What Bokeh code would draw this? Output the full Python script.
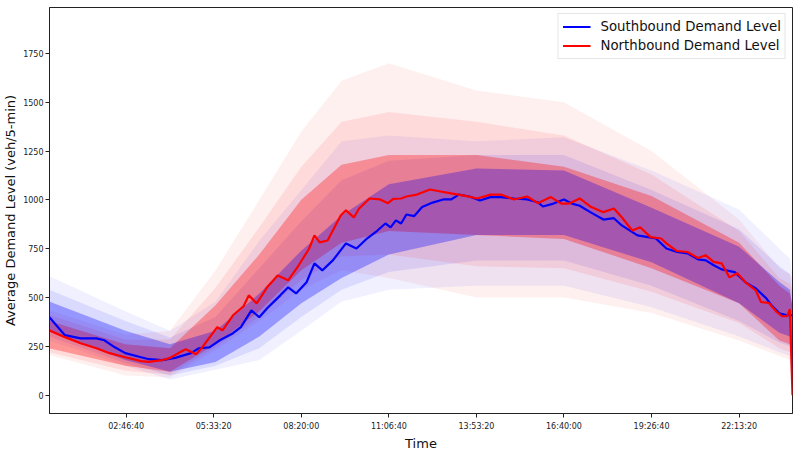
from bokeh.plotting import figure
from bokeh.models import FixedTicker, Range1d
from bokeh.embed import file_html
from bokeh.resources import INLINE

# ---- mean demand curves (seconds since midnight, veh/5-min) ----
sb_time_s = [1200, 3000, 4800, 6600, 7500, 8700, 9900, 11700, 12600, 14100, 15600, 17400,
             18300, 19500, 20700, 22200, 23100, 24300, 25200, 26100, 27600, 28500, 29400,
             30600, 31500, 32400, 33600, 35100, 36300, 37500, 38700, 39600, 40200, 40800,
             41400, 42000, 42900, 43800, 45000, 46200, 47100, 48000, 49200, 50400, 51600,
             52800, 54300, 55800, 57000, 57600, 58800, 60000, 60900, 61800, 63000, 64500,
             65700, 66600, 68400, 69600, 70500, 71700, 72900, 74100, 75300, 76200, 77100,
             78000, 79500, 80700, 81900, 83100, 83700, 84600, 85500, 86100]
sb_level = [400, 307, 291, 291, 281, 245, 215, 194, 184, 179, 191, 215,
            240, 245, 281, 317, 348, 434, 399, 445, 511, 552, 521,
            578, 675, 639, 690, 777, 751, 802, 843, 879, 859, 895,
            879, 925, 917, 963, 986, 1002, 1002, 1027, 1017, 997, 1014,
            1014, 1007, 1002, 988, 966, 981, 1002, 981, 970, 937, 899,
            906, 869, 818, 809, 802, 751, 733, 726, 695, 690, 665,
            644, 630, 579, 547, 496, 460, 419, 409, 409]

nb_time_s = [1200, 3000, 4800, 6600, 8100, 9900, 11700, 12600, 14100, 15000, 16200, 16800,
             18000, 18600, 20400, 21000, 22200, 23400, 24000, 24900, 26100, 27300, 28500,
             29700, 30900, 31500, 32100, 33000, 34500, 35100, 36000, 36600, 37800, 39000,
             39900, 40500, 41400, 42000, 43200, 44700, 45900, 47100, 48600, 50100, 51600,
             52800, 54300, 55800, 57000, 58500, 59700, 60600, 61800, 63000, 64500, 65700,
             66600, 67800, 68700, 69900, 71100, 71700, 72900, 74100, 75300, 76200, 77100,
             78000, 78900, 79800, 80700, 81900, 82500, 83400, 84300, 84900, 85500, 85800, 86100]
nb_level = [332, 297, 266, 240, 215, 194, 174, 170, 179, 191, 221, 235,
            210, 240, 348, 332, 409, 455, 511, 470, 552, 613, 588,
            665, 751, 818, 782, 792, 920, 946, 910, 956, 1007, 1002,
            983, 1005, 1007, 1017, 1027, 1053, 1043, 1033, 1022, 1007, 1027,
            1027, 1002, 1017, 983, 1014, 981, 981, 1007, 966, 937, 956,
            911, 843, 860, 809, 802, 777, 738, 733, 702, 716, 682,
            675, 603, 624, 579, 537, 477, 472, 426, 404, 404, 440, 0]

# ---- spread of the individual daily curves ----
band_time_s = [1200, 9900, 15000, 20200, 25200, 30000, 34600, 40000, 50000, 60000,
               70000, 80000, 84600, 85800, 86100]
sb_outer_low = [280, 150, 80, 130, 180, 330, 480, 540, 560, 560, 450, 300, 220, 200, 0]
sb_outer_high = [610, 430, 330, 480, 790, 1050, 1300, 1330, 1300, 1320, 1150, 950, 750, 700, 600]
sb_mid_low = [300, 165, 100, 150, 240, 400, 540, 630, 690, 690, 560, 380, 270, 250, 50]
sb_mid_high = [540, 380, 295, 400, 650, 890, 1100, 1200, 1230, 1230, 1050, 850, 660, 620, 520]
sb_core_low = [330, 180, 120, 170, 300, 470, 600, 720, 820, 820, 680, 470, 320, 300, 100]
sb_core_high = [480, 330, 260, 330, 520, 740, 920, 1080, 1160, 1150, 960, 760, 580, 540, 450]
nb_outer_low = [205, 100, 90, 230, 380, 540, 640, 600, 500, 500, 420, 280, 200, 180, 0]
nb_outer_high = [435, 310, 330, 640, 1000, 1350, 1610, 1700, 1560, 1500, 1250, 900, 650, 620, 600]
nb_mid_low = [220, 125, 105, 245, 400, 590, 710, 720, 660, 650, 530, 370, 240, 220, 40]
nb_mid_high = [410, 285, 285, 550, 860, 1170, 1400, 1450, 1400, 1330, 1130, 840, 600, 570, 520]
nb_core_low = [240, 150, 120, 260, 430, 640, 780, 840, 820, 800, 650, 470, 280, 260, 80]
nb_core_high = [380, 260, 240, 460, 720, 1000, 1180, 1230, 1230, 1170, 1020, 780, 560, 520, 450]

x_tick_s = [10000, 20000, 30000, 40000, 50000, 60000, 70000, 80000]
y_ticks = [0, 250, 500, 750, 1000, 1250, 1500, 1750]

BLUE = "#0000ff"
RED = "#ff0000"
FONT = "DejaVu Sans"

p = figure(frame_width=743, frame_height=406, output_backend="svg", toolbar_location=None,
           x_range=Range1d(1240, 86100), y_range=Range1d(-94, 1985),
           min_border_left=49, min_border_right=7, min_border_top=7, min_border_bottom=37)
p.xgrid.visible = False
p.ygrid.visible = False
p.outline_line_color = "#222222"
p.outline_line_width = 1
p.background_fill_color = "white"
p.border_fill_color = "white"

# spread bands, alternating directions the way the daily curves interleave
p.varea(x=band_time_s, y1=sb_outer_low, y2=sb_outer_high, fill_color=BLUE, fill_alpha=0.06)
p.varea(x=band_time_s, y1=nb_outer_low, y2=nb_outer_high, fill_color=RED, fill_alpha=0.06)
p.varea(x=band_time_s, y1=sb_mid_low, y2=sb_mid_high, fill_color=BLUE, fill_alpha=0.09)
p.varea(x=band_time_s, y1=nb_mid_low, y2=nb_mid_high, fill_color=RED, fill_alpha=0.09)
for _ in range(2):
    p.varea(x=band_time_s, y1=nb_core_low, y2=nb_core_high, fill_color=RED, fill_alpha=0.17)
    p.varea(x=band_time_s, y1=sb_core_low, y2=sb_core_high, fill_color=BLUE, fill_alpha=0.17)

p.line(sb_time_s, sb_level, line_color=BLUE, line_width=2.2, legend_label="Southbound Demand Level")
p.line(nb_time_s, nb_level, line_color=RED, line_width=2.2, legend_label="Northbound Demand Level")

def hms(s):
    return "%02d:%02d:%02d" % (s // 3600, (s % 3600) // 60, s % 60)

p.xaxis.ticker = FixedTicker(ticks=x_tick_s)
p.xaxis.major_label_overrides = {t: hms(t) for t in x_tick_s}
p.yaxis.ticker = FixedTicker(ticks=y_ticks)

for ax in (p.xaxis[0], p.yaxis[0]):
    ax.minor_tick_line_color = None
    ax.major_tick_in = 0
    ax.major_tick_out = 4
    ax.axis_line_color = "#222222"
    ax.major_tick_line_color = "#222222"
    ax.major_label_text_font = FONT
    ax.major_label_text_font_size = "8px"
    ax.major_label_text_color = "#222222"
    ax.axis_label_text_font = FONT
    ax.axis_label_text_font_size = "13px"
    ax.axis_label_text_font_style = "normal"
    ax.axis_label_text_color = "#111111"

p.xaxis.axis_label = "Time"
p.yaxis.axis_label = "Average Demand Level (veh/5-min)"
p.xaxis.axis_label_standoff = 2
p.yaxis.axis_label_standoff = 2
p.xaxis.major_label_standoff = 4
p.yaxis.major_label_standoff = 2

lg = p.legend[0]
lg.location = "top_right"
lg.label_text_font = FONT
lg.label_text_font_size = "13.3px"
lg.label_text_color = "#111111"
lg.glyph_width = 28
lg.glyph_height = 17
lg.label_height = 17
lg.label_standoff = 10
lg.spacing = 2
lg.padding = 4
lg.margin = 6
lg.border_line_color = "#cccccc"
lg.border_line_width = 1
lg.background_fill_alpha = 0.8

open("out.html", "w").write(file_html(p, INLINE))
